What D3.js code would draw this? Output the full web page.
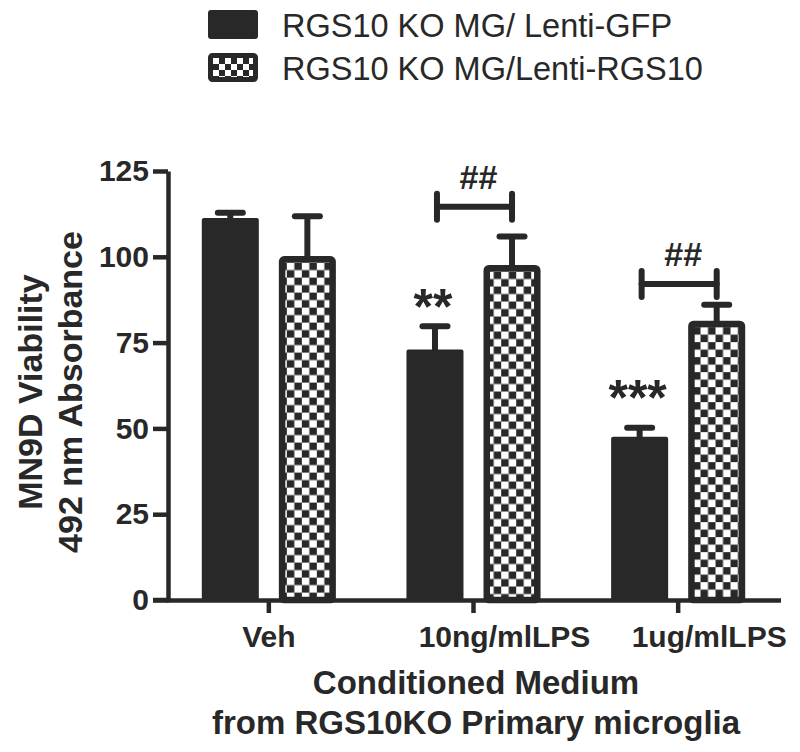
<!DOCTYPE html>
<html>
<head>
<meta charset="utf-8">
<script src="https://cdn.jsdelivr.net/npm/d3@7"></script>
<style>
  html, body { margin: 0; padding: 0; background: #ffffff; }
  svg { display: block; }
  text { font-family: "Liberation Sans", Arial, Helvetica, sans-serif; fill: #282828; }
</style>
</head>
<body>
<div id="chart"></div>
<script>
// ---------- data ----------
const categories = ["Veh", "10ng/mlLPS", "1ug/mlLPS"];
const seriesNames = ["RGS10 KO MG/ Lenti-GFP", "RGS10 KO MG/Lenti-RGS10"];
const gfpMeans = [111.3, 73.0, 47.6];
const gfpSem = [1.5, 6.8, 2.6];
const rgs10Means = [100.2, 97.6, 81.4];
const rgs10Sem = [11.6, 8.3, 4.6];
const yTicks = [0, 25, 50, 75, 100, 125];
const starLabels = ["", "**", "***"];       // vs Veh, on GFP bars
const starValues = [null, 88.1, 61.6];      // value level of star centre
const hashLabels = ["", "##", "##"];        // GFP vs RGS10 brackets
const hashValues = [null, 114.6, 92.1];     // value level of bracket line
const yTitleLines = ["MN9D Viability", "492 nm Absorbance"];
const xTitleLines = ["Conditioned Medium", "from RGS10KO Primary microglia"];

// ---------- setup ----------
const W = 800, H = 752;
const ink = "#282828";
const svg = d3.select("#chart").append("svg").attr("width", W).attr("height", H);
const defs = svg.append("defs");

const y = d3.scaleLinear().domain([0, 125]).range([600, 171]);
const x0 = d3.scaleBand().domain(categories).range([166.5, 780.5]).padding(0);
const x1 = d3.scaleBand().domain(seriesNames).range([0, x0.bandwidth()])
  .paddingInner(0.26).paddingOuter(0.458);

const rows = categories.map((c, i) => ({
  cat: c, i,
  bars: [
    { s: seriesNames[0], v: gfpMeans[i], e: gfpSem[i] },
    { s: seriesNames[1], v: rgs10Means[i], e: rgs10Sem[i] }
  ]
}));

function checker(id, cx, cy, cell) {
  const p = defs.append("pattern").attr("id", id)
    .attr("patternUnits", "userSpaceOnUse")
    .attr("x", cx).attr("y", cy).attr("width", cell * 2).attr("height", cell * 2);
  p.append("rect").attr("width", cell * 2).attr("height", cell * 2).attr("fill", "#ffffff");
  p.append("rect").attr("x", cell).attr("y", 0).attr("width", cell).attr("height", cell).attr("fill", ink);
  p.append("rect").attr("x", 0).attr("y", cell).attr("width", cell).attr("height", cell).attr("fill", ink);
}

// ---------- axes ----------
const sw = 4.5;
const yAxis = svg.append("g").attr("transform", "translate(168,0)")
  .call(d3.axisLeft(y).tickValues(yTicks).tickSize(15).tickSizeOuter(0).tickPadding(4));
yAxis.selectAll("path, line").attr("stroke", ink).attr("stroke-width", sw);
yAxis.selectAll("text").attr("font-size", 30).attr("font-weight", "bold")
  .attr("fill", ink).style("font-family", "'Liberation Sans', Arial, sans-serif");

const xAxis = svg.append("g").attr("transform", "translate(0,600)")
  .call(d3.axisBottom(x0).tickSize(13).tickSizeOuter(0).tickPadding(13));
xAxis.selectAll("path, line").attr("stroke", ink).attr("stroke-width", sw);
xAxis.selectAll("text").attr("font-size", 30).attr("font-weight", "bold")
  .attr("fill", ink).style("font-family", "'Liberation Sans', Arial, sans-serif")
  .attr("dx", (d, i) => i === 0 ? 0 : 31);
// extend the axis line left to the zero tick
xAxis.append("line").attr("x1", 153).attr("x2", 170).attr("y1", 0).attr("y2", 0)
  .attr("stroke", ink).attr("stroke-width", sw);

// ---------- bars ----------
const groups = svg.append("g").selectAll("g").data(rows).join("g")
  .attr("transform", d => `translate(${x0(d.cat)},0)`);

const bw = x1.bandwidth();
const strokeW = 6.5;
groups.each(function(row) {
  const g = d3.select(this);
  const gx = x0(row.cat);
  row.bars.forEach((b, j) => {
    const bx = x1(b.s);
    if (j === 0) {
      g.append("rect").attr("x", bx).attr("y", y(b.v)).attr("width", bw)
        .attr("height", y(0) - y(b.v)).attr("rx", 2).attr("fill", ink);
    } else {
      const pid = "chk" + row.i;
      checker(pid, gx + bx + strokeW, y(b.v) + strokeW, 7.5);
      g.append("rect").attr("x", bx + strokeW / 2).attr("y", y(b.v) + strokeW / 2)
        .attr("width", bw - strokeW).attr("height", y(0) - y(b.v) - strokeW / 2)
        .attr("rx", 2)
        .attr("fill", `url(#${pid})`).attr("stroke", ink).attr("stroke-width", strokeW);
    }
    // error bar
    const cxp = bx + bw / 2;
    g.append("line").attr("x1", cxp).attr("x2", cxp)
      .attr("y1", y(b.v) + 1).attr("y2", y(b.v + b.e))
      .attr("stroke", ink).attr("stroke-width", 6);
    g.append("line").attr("x1", cxp - 12.5).attr("x2", cxp + 12.5)
      .attr("y1", y(b.v + b.e)).attr("y2", y(b.v + b.e))
      .attr("stroke", ink).attr("stroke-width", 6).attr("stroke-linecap", "round");
  });

  // significance stars
  if (starLabels[row.i]) {
    const cxp = x1(seriesNames[0]) + bw / 2;
    g.append("text").attr("x", cxp - 2).attr("y", y(starValues[row.i]) + 26)
      .attr("text-anchor", "middle").attr("font-size", 50).attr("font-weight", "bold")
      .text(starLabels[row.i]);
  }
  // bracket with ##
  if (hashLabels[row.i]) {
    const xa = x1(seriesNames[0]) + bw / 2 + 2;
    const xb = x1(seriesNames[1]) + bw / 2;
    const yy = y(hashValues[row.i]);
    const br = g.append("g").attr("stroke", ink).attr("stroke-width", 6).attr("stroke-linecap", "round");
    br.append("line").attr("x1", xa).attr("x2", xb).attr("y1", yy).attr("y2", yy);
    br.append("line").attr("x1", xa).attr("x2", xa).attr("y1", yy - 13).attr("y2", yy + 13);
    br.append("line").attr("x1", xb).attr("x2", xb).attr("y1", yy - 13).attr("y2", yy + 13);
    g.append("text").attr("x", (xa + xb) / 2 + 4).attr("y", yy - 18)
      .attr("text-anchor", "middle").attr("font-size", 34).attr("font-weight", "bold")
      .text(hashLabels[row.i]);
  }
});

// ---------- legend ----------
const legend = svg.append("g");
const legY = [10, 53];
checker("chkLeg", 213, 58, 6);
seriesNames.forEach((name, i) => {
  if (i === 0) {
    legend.append("rect").attr("x", 208).attr("y", legY[i]).attr("width", 50).attr("height", 29)
      .attr("rx", 3).attr("fill", ink);
  } else {
    legend.append("rect").attr("x", 210.5).attr("y", legY[i] + 2.5).attr("width", 45).attr("height", 24)
      .attr("rx", 2).attr("fill", "url(#chkLeg)").attr("stroke", ink).attr("stroke-width", 5);
  }
  legend.append("text").attr("x", 282).attr("y", legY[i] + 27)
    .attr("font-size", 32.5).text(name);
});

// ---------- titles ----------
const yTitle = svg.append("g").attr("transform", "translate(0,392) rotate(-90)");
yTitleLines.forEach((t, i) => {
  yTitle.append("text").attr("x", 0).attr("y", 42 + i * 40)
    .attr("text-anchor", "middle").attr("font-size", 34).attr("font-weight", "bold").text(t);
});
xTitleLines.forEach((t, i) => {
  svg.append("text").attr("x", 476).attr("y", 694 + i * 40)
    .attr("text-anchor", "middle").attr("font-size", 33).attr("font-weight", "bold").text(t);
});
</script>
</body>
</html>
